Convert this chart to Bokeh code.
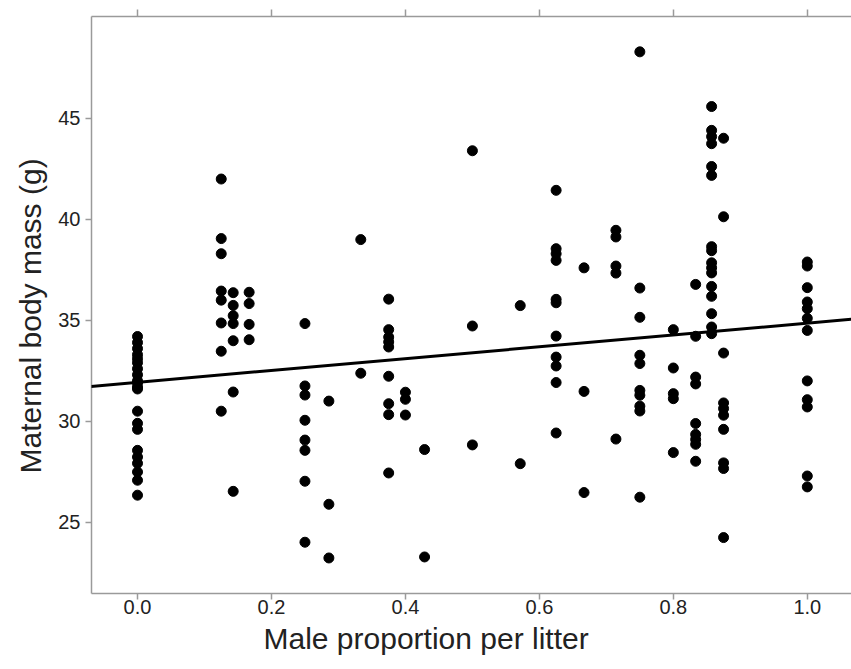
from bokeh.plotting import figure
from bokeh.models import Range1d, LinearAxis, FixedTicker, Slope, CustomJSTickFormatter, NumeralTickFormatter, Title
from bokeh.embed import file_html
from bokeh.resources import INLINE

# Male proportion per litter (x categories) and maternal body mass (g) per category
proportions = [0.0, 1/8, 1/7, 1/6, 0.25, 2/7, 1/3, 3/8, 0.4, 3/7, 0.5, 4/7, 0.625,
               2/3, 5/7, 0.75, 0.8, 5/6, 6/7, 7/8, 1.0]

mass_000 = [34.2, 33.9, 33.6, 33.3, 33.1, 32.9, 32.6, 32.3, 32.0, 31.9, 31.7, 31.6,
            30.5, 29.9, 29.6, 28.56, 28.23, 27.92, 27.49, 27.08, 26.34]
mass_125 = [42.0, 39.05, 38.3, 36.45, 36.0, 34.87, 33.47, 30.5]
mass_143 = [36.37, 35.74, 35.23, 34.84, 33.99, 31.45, 26.53]
mass_167 = [36.39, 35.83, 34.8, 34.04]
mass_250 = [34.84, 31.75, 31.3, 30.05, 29.07, 28.56, 27.03, 24.01]
mass_286 = [31.0, 25.89, 23.23]
mass_333 = [39.0, 32.38]
mass_375 = [36.05, 34.54, 34.17, 33.93, 33.68, 32.23, 30.87, 30.33, 27.44]
mass_400 = [31.44, 31.09, 30.31]
mass_429 = [28.6, 23.28]
mass_500 = [43.4, 34.72, 28.83]
mass_571 = [35.73, 27.9]
mass_625 = [41.44, 38.55, 38.3, 37.97, 36.04, 35.87, 34.22, 33.18, 32.74, 31.92, 29.42]
mass_667 = [37.6, 31.48, 26.47]
mass_714 = [39.46, 39.13, 37.69, 37.34, 29.12]
mass_750 = [48.3, 36.6, 35.15, 33.27, 32.86, 31.53, 31.29, 30.75, 30.51, 26.24]
mass_800 = [34.54, 32.64, 31.37, 31.12, 28.45]
mass_833 = [36.78, 34.21, 32.19, 31.85, 29.89, 29.35, 29.1, 28.86, 28.02]
mass_857 = [45.59, 44.41, 44.1, 43.75, 42.62, 42.18, 38.65, 38.45, 37.85, 37.6, 37.35,
            36.68, 36.19, 35.33, 34.67, 34.34]
mass_875 = [44.02, 40.13, 33.38, 30.91, 30.63, 30.3, 29.6, 27.94, 27.66, 24.24]
mass_1000 = [37.89, 37.69, 36.62, 35.91, 35.58, 35.1, 34.5, 32.0, 31.07, 30.71, 27.29, 26.75]

masses = [mass_000, mass_125, mass_143, mass_167, mass_250, mass_286, mass_333, mass_375,
          mass_400, mass_429, mass_500, mass_571, mass_625, mass_667, mass_714, mass_750,
          mass_800, mass_833, mass_857, mass_875, mass_1000]

# fitted regression line
fit_intercept = 31.93
fit_slope = 2.93

x_ticks = [0.0, 0.2, 0.4, 0.6, 0.8, 1.0]
y_ticks = [25, 30, 35, 40, 45]
x_title = "Male proportion per litter"
y_title = "Maternal body mass (g)"

xs, ys = [], []
for p_, ms in zip(proportions, masses):
    for m in ms:
        xs.append(p_)
        ys.append(m)

FONT = "Liberation Sans"
AXIS_COL = "#9a9a9a"
TEXT_COL = "#222222"

p = figure(width=851, height=669, output_backend="svg", toolbar_location=None,
           x_range=Range1d(-0.0687, 1.066), y_range=Range1d(21.47, 50.05),
           min_border_left=91, min_border_right=0, min_border_top=16, min_border_bottom=76)
p.grid.visible = False
p.outline_line_color = None
p.background_fill_color = "white"
p.border_fill_color = "white"

p.scatter(xs, ys, size=10, color="black")
p.add_layout(Slope(gradient=fit_slope, y_intercept=fit_intercept, line_color="black", line_width=3))

def style(ax):
    ax.axis_line_color = AXIS_COL
    ax.axis_line_width = 1.5
    ax.major_tick_line_color = AXIS_COL
    ax.major_tick_line_width = 1.5
    ax.major_tick_in = 0
    ax.major_tick_out = 6
    ax.minor_tick_line_color = None
    ax.major_label_text_font = FONT
    ax.major_label_text_font_size = "20px"
    ax.major_label_text_color = TEXT_COL

xa = p.xaxis[0]
xa.ticker = FixedTicker(ticks=x_ticks)
xa.formatter = NumeralTickFormatter(format="0.0")
style(xa)
xa.major_label_standoff = 0

ya = p.yaxis[0]
ya.ticker = FixedTicker(ticks=y_ticks)
style(ya)
ya.major_label_standoff = 5

top = LinearAxis(ticker=FixedTicker(ticks=x_ticks),
                 formatter=CustomJSTickFormatter(code="return ''"))
style(top)
top.major_tick_out = 7
top.major_label_standoff = 0
p.add_layout(top, "above")

xt = Title(text=x_title, align="left", offset=172, text_font=FONT, text_font_size="30px",
           text_font_style="normal", text_color=TEXT_COL, standoff=6)
p.add_layout(xt, "below")

yt = Title(text=y_title, align="left", offset=120, text_font=FONT, text_font_size="30px",
           text_font_style="normal", text_color=TEXT_COL, standoff=18)
p.add_layout(yt, "left")

open("out.html", "w").write(file_html(p, INLINE))
